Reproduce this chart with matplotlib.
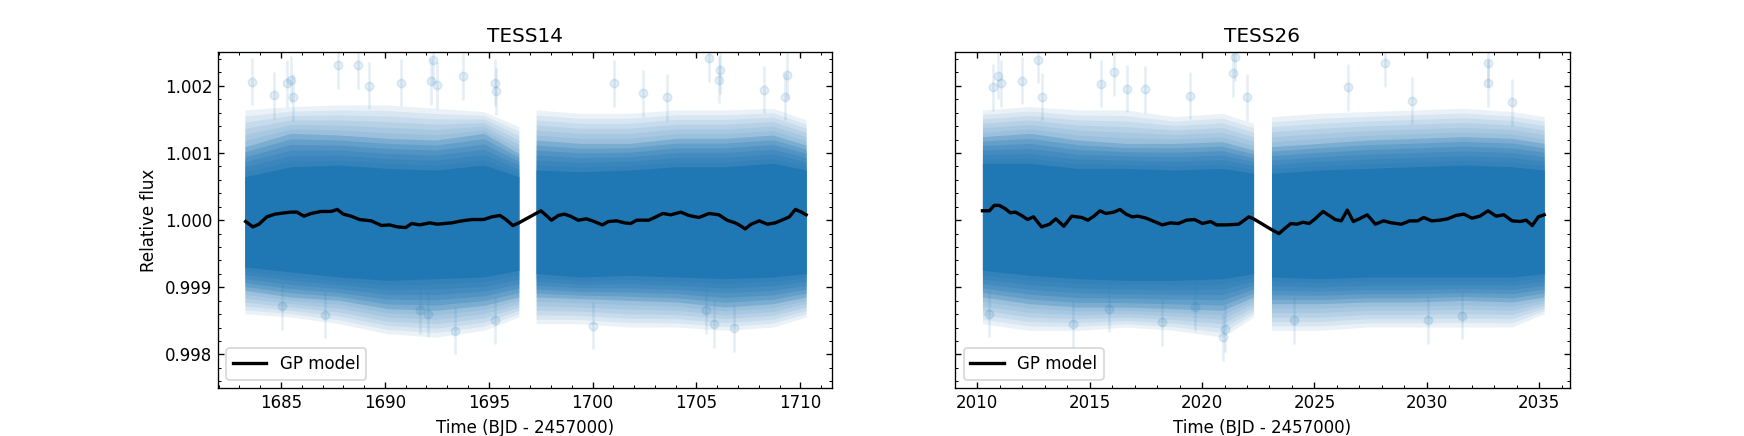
import numpy as np
import matplotlib
matplotlib.use("Agg")
import matplotlib.pyplot as plt
from matplotlib.ticker import MultipleLocator, FormatStrFormatter

# ---- GP model curves ----
gp_t_14 = [1683.30, 1683.65, 1683.94, 1684.32, 1684.71, 1685.19, 1685.48, 1685.77, 1686.10, 1686.45,
           1686.93, 1687.42, 1687.71, 1688.00, 1688.38, 1688.77, 1689.35, 1689.84, 1690.22, 1690.61,
           1691.00, 1691.29, 1691.67, 1692.16, 1692.54, 1692.83, 1693.22, 1693.70, 1694.19, 1694.77,
           1695.15, 1695.54, 1695.83, 1696.16, 1696.45, 1697.51, 1697.77, 1698.02, 1698.35, 1698.64,
           1698.93, 1699.31, 1699.70, 1699.99, 1700.47, 1700.76, 1701.15, 1701.54, 1701.83, 1702.12,
           1702.70, 1702.99, 1703.38, 1703.76, 1704.25, 1704.63, 1705.12, 1705.60, 1706.08, 1706.47,
           1706.86, 1707.05, 1707.34, 1707.63, 1708.02, 1708.41, 1708.79, 1709.18, 1709.47, 1709.76,
           1710.05, 1710.28]
gp_f_14 = [0.99998, 0.99990, 0.99994, 1.00005, 1.00009, 1.00011, 1.00012, 1.00012, 1.00006, 1.00010,
           1.00013, 1.00013, 1.00016, 1.00009, 1.00006, 1.00001, 0.99999, 0.99992, 0.99993, 0.99990,
           0.99989, 0.99995, 0.99993, 0.99996, 0.99994, 0.99995, 0.99996, 0.99999, 1.00001, 1.00001,
           1.00005, 1.00007, 1.00001, 0.99992, 0.99996, 1.00014, 1.00007, 1.00000, 1.00007, 1.00009,
           1.00006, 1.00000, 1.00002, 0.99999, 0.99993, 0.99998, 0.99999, 0.99996, 0.99995, 1.00000,
           1.00000, 1.00004, 1.00010, 1.00008, 1.00012, 1.00007, 1.00004, 1.00010, 1.00008, 1.00000,
           0.99996, 0.99993, 0.99987, 0.99994, 0.99999, 0.99994, 0.99996, 1.00001, 1.00005, 1.00016,
           1.00012, 1.00008]

gp_t_26 = [2010.23, 2010.54, 2010.75, 2010.98, 2011.25, 2011.47, 2011.70, 2011.97, 2012.24, 2012.50,
           2012.86, 2013.22, 2013.49, 2013.85, 2014.20, 2014.65, 2014.92, 2015.19, 2015.46, 2015.72,
           2016.08, 2016.35, 2016.62, 2016.89, 2017.16, 2017.51, 2017.87, 2018.23, 2018.59, 2018.94,
           2019.30, 2019.66, 2020.02, 2020.38, 2020.64, 2021.09, 2021.63, 2022.08, 2022.29, 2023.09,
           2023.42, 2023.69, 2023.95, 2024.22, 2024.49, 2024.76, 2025.03, 2025.38, 2025.65, 2025.92,
           2026.19, 2026.46, 2026.73, 2026.99, 2027.35, 2027.71, 2028.07, 2028.43, 2028.87, 2029.23,
           2029.59, 2029.86, 2030.21, 2030.57, 2030.93, 2031.29, 2031.65, 2032.00, 2032.36, 2032.72,
           2033.08, 2033.43, 2033.79, 2034.15, 2034.42, 2034.69, 2034.96, 2035.22]
gp_f_26 = [1.00014, 1.00014, 1.00022, 1.00022, 1.00017, 1.00011, 1.00012, 1.00007, 1.00001, 1.00005,
           0.99990, 0.99994, 1.00002, 0.99991, 1.00006, 1.00004, 1.00000, 1.00006, 1.00014, 1.00010,
           1.00012, 1.00016, 1.00009, 1.00005, 1.00006, 1.00003, 0.99998, 0.99993, 0.99996, 0.99995,
           1.00000, 1.00001, 0.99995, 0.99998, 0.99993, 0.99993, 0.99994, 1.00005, 1.00002, 0.99986,
           0.99980, 0.99988, 0.99995, 0.99994, 0.99997, 0.99995, 1.00002, 1.00013, 1.00007, 1.00001,
           0.99999, 1.00015, 0.99998, 1.00002, 1.00008, 0.99994, 0.99999, 0.99996, 0.99994, 0.99999,
           0.99999, 1.00004, 0.99999, 1.00000, 1.00002, 1.00007, 1.00009, 1.00003, 1.00006, 1.00014,
           1.00006, 1.00008, 0.99999, 0.99998, 1.00000, 0.99992, 1.00005, 1.00008]

# ---- spread of the photometry (ppm about 1), read as envelopes ----
env_t_14 = [1683.26, 1685.48, 1687.80, 1690.13, 1692.45, 1694.77, 1696.45,
            1697.28, 1699.41, 1701.73, 1704.05, 1706.37, 1708.69, 1710.28]
faint_hi_14 = [1642, 1692, 1717, 1717, 1667, 1617, 1393, 1642, 1592, 1592, 1642, 1642, 1667, 1493]
mid_hi_14 = [1095, 1294, 1269, 1219, 1194, 1294, 995, 1194, 1144, 1144, 1219, 1219, 1269, 1119]
core_hi_14 = [647, 796, 821, 771, 746, 821, 647, 746, 721, 746, 796, 796, 846, 746]
core_lo_14 = [-697, -771, -846, -896, -871, -846, -746, -796, -846, -821, -846, -871, -846, -796]
mid_lo_14 = [-1045, -1144, -1194, -1318, -1343, -1269, -1144, -1144, -1169, -1194, -1219, -1294, -1244, -1144]
faint_lo_14 = [-1393, -1443, -1542, -1692, -1741, -1642, -1443, -1542, -1542, -1592, -1592, -1642, -1592, -1443]

env_t_26 = [2010.23, 2012.33, 2014.47, 2016.62, 2018.77, 2020.91, 2022.29,
            2023.09, 2025.21, 2027.35, 2029.50, 2031.65, 2033.79, 2035.22]
faint_hi_26 = [1642, 1692, 1642, 1642, 1542, 1592, 1443, 1542, 1592, 1617, 1642, 1667, 1617, 1542]
mid_hi_26 = [1244, 1294, 1194, 1144, 1144, 1169, 1045, 1095, 1144, 1194, 1219, 1244, 1219, 1144]
core_hi_26 = [846, 846, 771, 771, 746, 771, 697, 697, 746, 771, 796, 821, 796, 746]
core_lo_26 = [-746, -821, -871, -896, -896, -871, -796, -846, -871, -846, -846, -846, -846, -796]
mid_lo_26 = [-1144, -1244, -1294, -1294, -1318, -1343, -1144, -1244, -1244, -1219, -1219, -1194, -1219, -1144]
faint_lo_26 = [-1542, -1642, -1642, -1592, -1642, -1741, -1443, -1642, -1642, -1592, -1592, -1592, -1592, -1393]

gap_14 = 1696.9
gap_26 = 2022.7

# ---- isolated outlying points ----
out_t_14 = [1683.59, 1685.29, 1685.48, 1685.58, 1684.67, 1687.73, 1688.71, 1689.26, 1690.80, 1692.21,
            1692.31, 1692.50, 1693.76, 1695.29, 1695.35, 1695.29, 1693.38, 1687.13, 1685.06, 1705.60,
            1706.14, 1706.10, 1701.03, 1702.41, 1709.37, 1706.82, 1705.83, 1700.03, 1705.44, 1709.27,
            1708.25, 1703.57, 1691.67, 1692.06]
out_f_14 = [1.00206, 1.00204, 1.00209, 1.00183, 1.00186, 1.00231, 1.00231, 1.00200, 1.00205, 1.00207,
            1.00239, 1.00201, 1.00214, 1.00205, 1.00192, 0.99851, 0.99835, 0.99859, 0.99872, 1.00241,
            1.00223, 1.00209, 1.00204, 1.00189, 1.00216, 0.99839, 0.99845, 0.99843, 0.99866, 1.00184,
            1.00194, 1.00183, 0.99866, 0.99861]
out_t_26 = [2012.68, 2010.93, 2011.04, 2010.68, 2011.97, 2012.86, 2016.08, 2015.51, 2016.67, 2017.48,
            2019.48, 2021.48, 2021.39, 2022.02, 2026.51, 2028.16, 2032.72, 2032.72, 2029.32, 2033.79,
            2014.24, 2015.85, 2020.91, 2021.00, 2010.50, 2024.10, 2030.04, 2031.57, 2018.23, 2019.70]
out_f_26 = [1.00239, 1.00215, 1.00204, 1.00198, 1.00208, 1.00184, 1.00220, 1.00203, 1.00196, 1.00195,
            1.00185, 1.00243, 1.00219, 1.00183, 1.00198, 1.00234, 1.00234, 1.00204, 1.00178, 1.00176,
            0.99845, 0.99868, 0.99826, 0.99838, 0.99861, 0.99851, 0.99851, 0.99858, 0.99848, 0.99870]
flux_err = 0.00035

titles = ["TESS14", "TESS26"]

NSTEP = 6   # sub-bands per envelope step, to soften the edge of the cloud


def band_stack(ax, t, outer_lo, outer_hi, inner_lo, inner_hi, alpha):
    # stacked translucent bands from the outer envelope in to the inner one
    for k in range(NSTEP):
        w = k / NSTEP
        lo = outer_lo + (inner_lo - outer_lo) * w
        hi = outer_hi + (inner_hi - outer_hi) * w
        ax.fill_between(t, 1 + lo * 1e-6, 1 + hi * 1e-6, color="C0", alpha=alpha, lw=0)


def draw(ax, et, env, gap, ot, of, gt, gf, title):
    et = np.asarray(et)
    flo, fhi, mlo, mhi, clo, chi = [np.asarray(e, float) for e in env]
    for seg in (et < gap, et > gap):
        t = et[seg]
        band_stack(ax, t, flo[seg], fhi[seg], mlo[seg], mhi[seg], 0.09)
        band_stack(ax, t, mlo[seg], mhi[seg], clo[seg], chi[seg], 0.25)
        ax.fill_between(t, 1 + clo[seg] * 1e-6, 1 + chi[seg] * 1e-6, color="C0", lw=0)
    ax.errorbar(ot, of, yerr=flux_err, fmt="o", color="C0", alpha=0.12, ms=5)
    ax.plot(gt, gf, color="k", lw=2, label="GP model")
    ax.set_title(title)
    ax.set_xlabel("Time (BJD - 2457000)")
    ax.xaxis.set_minor_locator(MultipleLocator(1))
    ax.yaxis.set_minor_locator(MultipleLocator(0.0002))
    ax.tick_params(which="both", direction="in", top=True, right=True)
    ax.legend(loc="lower left")


fig, axes = plt.subplots(1, 2, sharey=True, figsize=(1744 / 120, 436 / 120), dpi=120)
draw(axes[0], env_t_14,
     [faint_lo_14, faint_hi_14, mid_lo_14, mid_hi_14, core_lo_14, core_hi_14],
     gap_14, out_t_14, out_f_14, gp_t_14, gp_f_14, titles[0])
draw(axes[1], env_t_26,
     [faint_lo_26, faint_hi_26, mid_lo_26, mid_hi_26, core_lo_26, core_hi_26],
     gap_26, out_t_26, out_f_26, gp_t_26, gp_f_26, titles[1])

axes[0].set_xlim(1681.97, 1711.54)
axes[1].set_xlim(2009.02, 2036.35)
axes[0].set_ylim(0.9975, 1.0025)
axes[0].yaxis.set_major_formatter(FormatStrFormatter("%.3f"))
axes[0].set_ylabel("Relative flux")

fig.savefig("out.png", dpi=120)
